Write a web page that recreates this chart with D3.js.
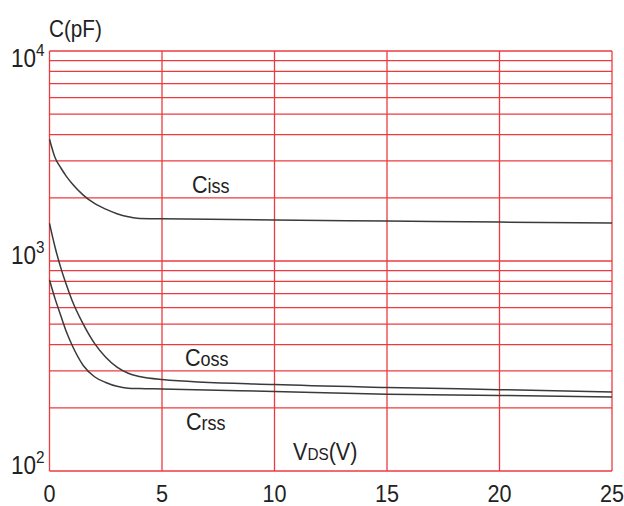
<!DOCTYPE html>
<html>
<head>
<meta charset="utf-8">
<script src="https://cdn.jsdelivr.net/npm/d3@7/dist/d3.min.js"></script>
<style>
  body { margin: 0; background: #fff; }
  text { font-family: "Liberation Sans", Arial, sans-serif; fill: #222; }
</style>
</head>
<body>
<div id="chart"></div>
<script>
var width = 624;
var height = 506;
var margin = {left: 49.5, right: 12, top: 51, bottom: 35};

// Vds sample points (V)
var vds = [0, 0.25, 0.5, 0.75, 1, 1.5, 2, 2.5, 3, 3.5, 4, 5, 10, 15, 20, 25];
// capacitances (pF)
var ciss = [3800, 3100, 2780, 2530, 2340, 2060, 1880, 1765, 1680, 1625, 1595, 1590, 1568, 1550, 1532, 1515];
var coss = [1510, 1160, 930, 770, 650, 500, 405, 348, 312, 292, 282, 273, 258, 250, 244, 238];
var crss = [812, 660, 550, 460, 398, 318, 281, 264, 253, 248, 247, 246, 239, 232, 229, 225];

var xTicks = [0, 5, 10, 15, 20, 25];
var decades = [100, 1000, 10000];

var svg = d3.select('#chart')
    .append('svg')
    .attr('width', width)
    .attr('height', height);

var x = d3.scaleLinear()
    .domain([0, 25])
    .range([margin.left, width - margin.right]);

var y = d3.scaleLog()
    .domain([100, 10000])
    .range([height - margin.bottom, margin.top]);

var red = '#eb3b40';

// horizontal grid: 100..900, 1000..9000, 10000
var hLines = [];
decades.slice(0, 2).forEach(function(d) {
    for (var k = 1; k < 10; k++) hLines.push(d * k);
});
hLines.push(10000);

svg.append('g')
    .selectAll('line')
    .data(hLines)
    .enter()
    .append('line')
    .attr('x1', x(0))
    .attr('x2', x(25))
    .attr('y1', (d) => y(d))
    .attr('y2', (d) => y(d))
    .attr('stroke', red)
    .attr('stroke-width', 1.3);

svg.append('g')
    .selectAll('line')
    .data(xTicks)
    .enter()
    .append('line')
    .attr('x1', (d) => x(d))
    .attr('x2', (d) => x(d))
    .attr('y1', y(10000))
    .attr('y2', y(100))
    .attr('stroke', red)
    .attr('stroke-width', 1.3);

// curves
var line = d3.line()
    .x((d) => x(d[0]))
    .y((d) => y(d[1]))
    .curve(d3.curveMonotoneX);

[ciss, coss, crss].forEach(function(s) {
    svg.append('path')
        .datum(vds.map((v, i) => [v, s[i]]))
        .attr('d', line)
        .attr('fill', 'none')
        .attr('stroke', '#3a3a3a')
        .attr('stroke-width', 1.5);
});

// text helper: parts = [[text, size, dy], ...]
function label(px, py, parts, anchor) {
    var t = svg.append('text')
        .attr('transform', `translate(${px},${py}) scale(0.9,1)`)
        .attr('text-anchor', anchor || 'start');
    parts.forEach(function(p) {
        t.append('tspan')
            .attr('font-size', p[1])
            .attr('dy', p[2] || 0)
            .text(p[0]);
    });
    return t;
}

// x tick labels
xTicks.forEach(function(d) {
    label(x(d), 502, [[String(d), 24]], 'middle');
});

// y decade labels
decades.forEach(function(d) {
    var ly = d === 10000 ? y(d) + 15.5 : y(d) + 3;
    var exp = Math.round(Math.log10(d));
    label(11, ly, [['10', 25], [String(exp), 17, -11]]);
});

label(49, 37, [['C(pF)', 23]]);
label(192, 193, [['C', 24], ['iss', 20]]);
label(185, 366, [['C', 24], ['oss', 20]]);
label(186, 430, [['C', 24], ['rss', 20]]);
label(293, 460, [['V', 24], ['DS', 17], ['(V)', 24]]);
</script>
</body>
</html>
